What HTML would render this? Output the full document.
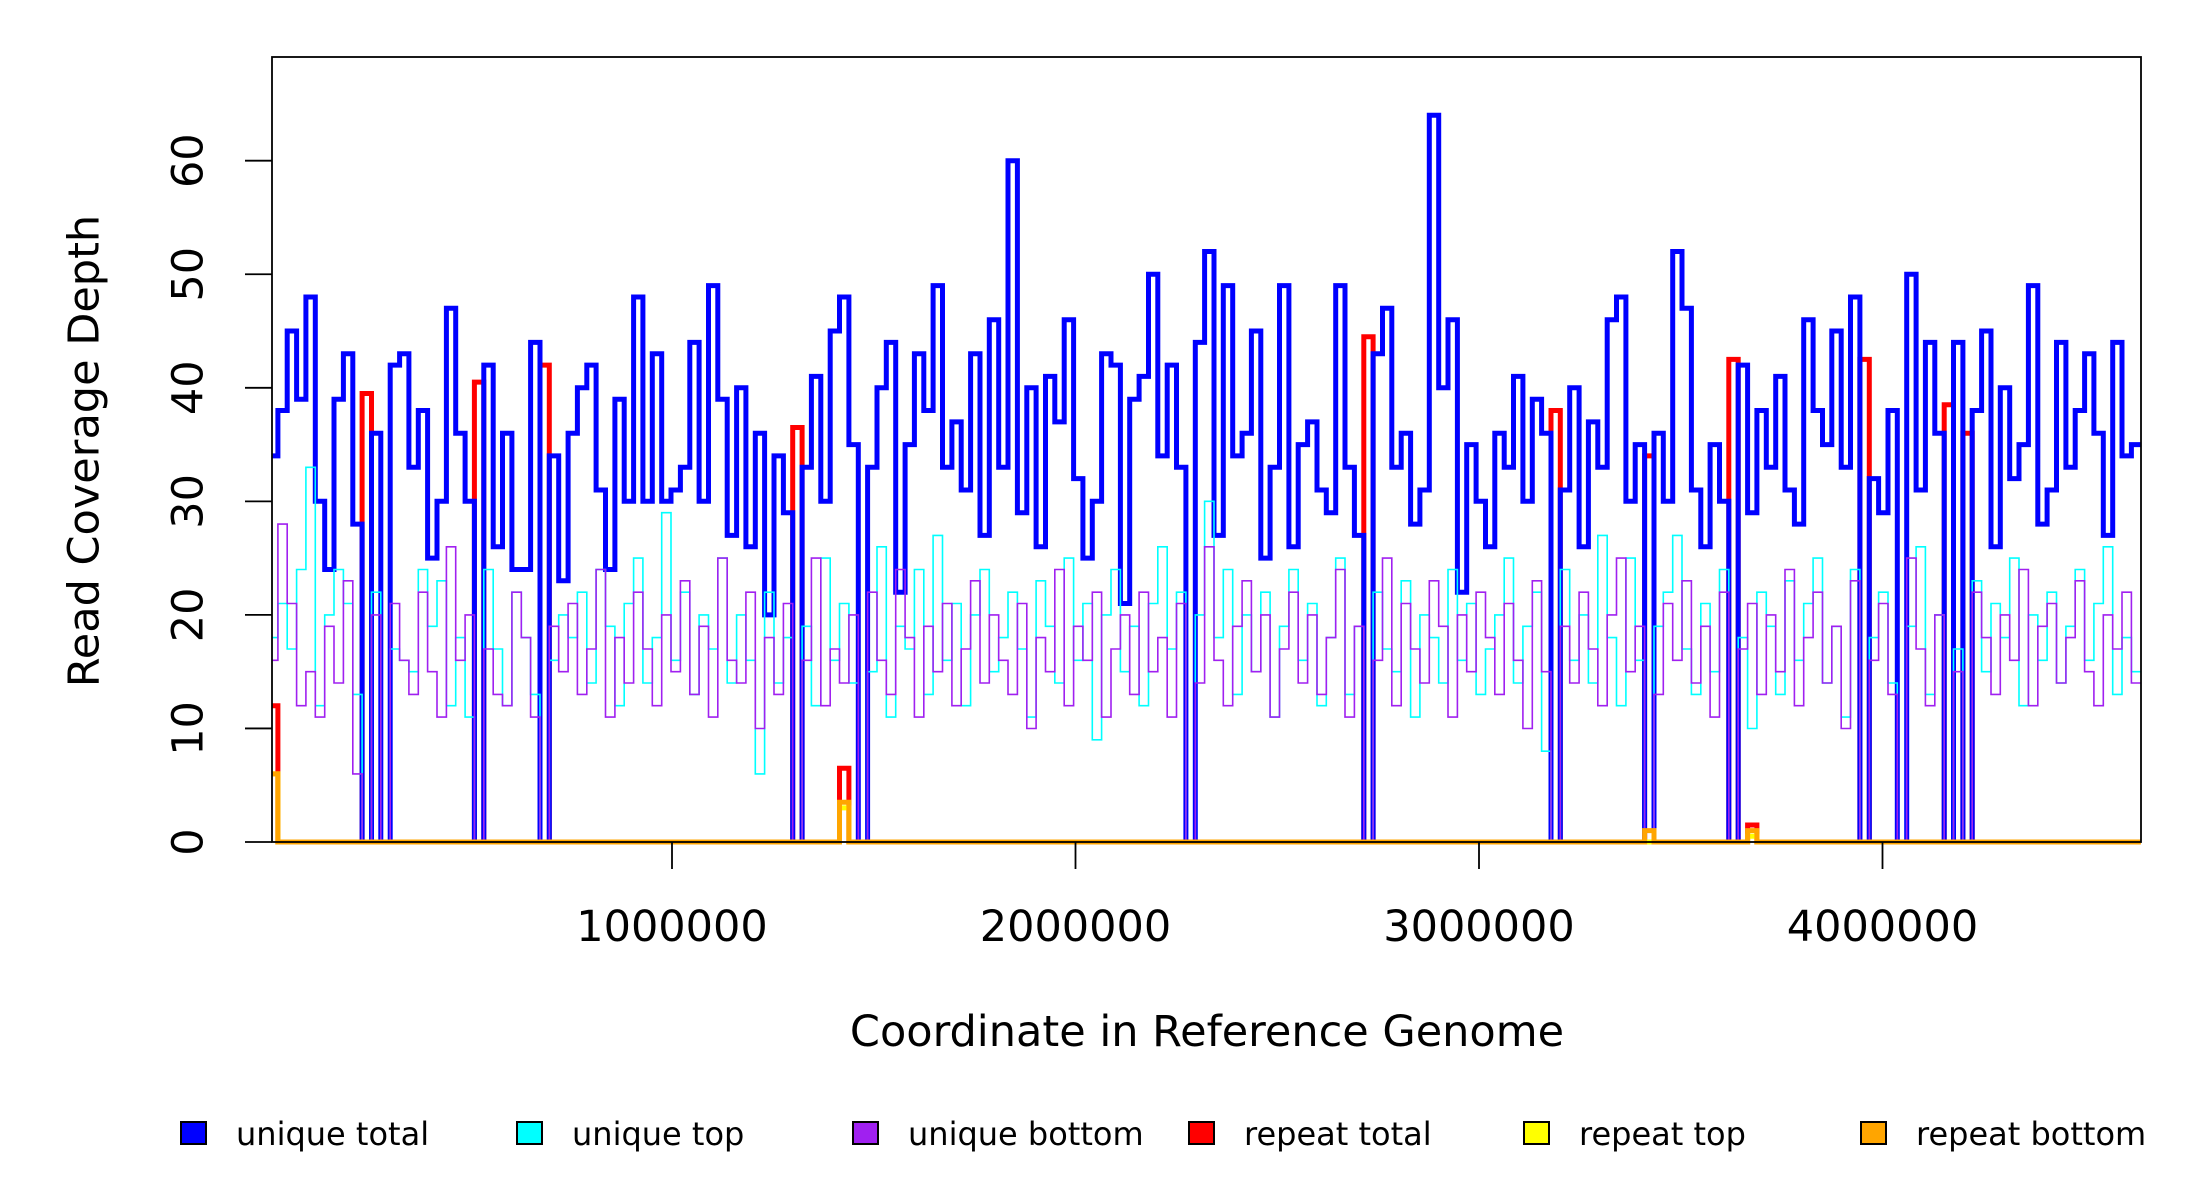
<!DOCTYPE html>
<html><head><meta charset="utf-8">
<style>
html,body{margin:0;padding:0;background:#fff;}
svg{display:block;font-family:"DejaVu Sans","Liberation Sans",sans-serif;}
</style></head>
<body>
<svg id="chart" width="2200" height="1200" viewBox="0 0 2200 1200" xmlns="http://www.w3.org/2000/svg">
<rect x="0" y="0" width="2200" height="1200" fill="#fff"/>
<g id="marks"></g>
<rect x="272" y="57" width="1869" height="785" fill="none" stroke="#000" stroke-width="1.8"/>
<g id="axes"></g>
<text x="87" y="451" font-size="43" text-anchor="middle" transform="rotate(-90 87 451)" dominant-baseline="middle">Read Coverage Depth</text>
<text x="1207" y="1046" font-size="43" text-anchor="middle">Coordinate in Reference Genome</text>
<g>
<g><rect x="181" y="1122" width="25" height="22" fill="#0000ff" stroke="#000" stroke-width="2"/><text x="236" y="1145" font-size="32">unique total</text></g>
<g><rect x="517" y="1122" width="25" height="22" fill="#00ffff" stroke="#000" stroke-width="2"/><text x="572" y="1145" font-size="32">unique top</text></g>
<g><rect x="853" y="1122" width="25" height="22" fill="#a020f0" stroke="#000" stroke-width="2"/><text x="908" y="1145" font-size="32">unique bottom</text></g>
<g><rect x="1189" y="1122" width="25" height="22" fill="#ff0000" stroke="#000" stroke-width="2"/><text x="1244" y="1145" font-size="32">repeat total</text></g>
<g><rect x="1524" y="1122" width="25" height="22" fill="#ffff00" stroke="#000" stroke-width="2"/><text x="1579" y="1145" font-size="32">repeat top</text></g>
<g><rect x="1861" y="1122" width="25" height="22" fill="#ffa500" stroke="#000" stroke-width="2"/><text x="1916" y="1145" font-size="32">repeat bottom</text></g>
</g>
</svg>
<script>
const binSize = 23200;
const uniqueTotal = [34,38,45,39,48,30,24,39,43,28,
0,36,0,42,43,33,38,25,30,47,
36,30,0,42,26,36,24,24,44,0,
34,23,36,40,42,31,24,39,30,48,
30,43,30,31,33,44,30,49,39,27,
40,26,36,20,34,29,0,33,41,30,
45,48,35,0,33,40,44,22,35,43,
38,49,33,37,31,43,27,46,33,60,
29,40,26,41,37,46,32,25,30,43,
42,21,39,41,50,34,42,33,0,44,
52,27,49,34,36,45,25,33,49,26,
35,37,31,29,49,33,27,0,43,47,
33,36,28,31,64,40,46,22,35,30,
26,36,33,41,30,39,36,0,31,40,
26,37,33,46,48,30,35,0,36,30,
52,47,31,26,35,30,0,42,29,38,
33,41,31,28,46,38,35,45,33,48,
0,32,29,38,0,50,31,44,36,0,
44,0,38,45,26,40,32,35,49,28,
31,44,33,38,43,36,27,44,34,35];
const uniqueTop = [18,21,17,24,33,12,20,24,21,13,
0,22,0,17,16,15,24,19,23,12,
18,11,0,24,17,12,22,18,13,0,
16,20,18,22,14,24,19,12,21,25,
14,18,29,16,22,13,20,17,25,14,
20,16,6,22,14,18,0,19,12,25,
16,21,14,0,15,26,11,19,17,24,
13,27,16,21,12,20,24,15,18,22,
17,11,23,19,14,25,16,21,9,20,
24,15,19,12,21,26,17,22,0,20,
30,18,24,13,20,15,22,11,19,24,
16,21,12,18,25,13,19,0,22,17,
15,23,11,20,18,14,24,16,21,13,
17,20,25,14,19,22,8,0,24,16,
20,14,27,18,12,25,16,0,19,22,
27,17,13,21,15,24,0,18,10,22,
19,13,23,16,21,25,14,19,11,24,
0,18,22,14,0,19,26,13,20,0,
17,0,23,15,21,18,25,12,20,16,
22,14,19,24,16,21,26,13,18,15];
const uniqueBottom = [16,28,21,12,15,11,19,14,23,6,
0,20,0,21,16,13,22,15,11,26,
16,20,0,17,13,12,22,18,11,0,
19,15,21,13,17,24,11,18,14,22,
17,12,20,15,23,13,19,11,25,16,
14,22,10,18,13,21,0,16,25,12,
17,14,20,0,22,16,13,24,18,11,
19,15,21,12,17,23,14,20,16,13,
21,10,18,15,24,12,19,16,22,11,
17,20,13,22,15,18,11,21,0,14,
26,16,12,19,23,15,20,11,17,22,
14,20,13,18,24,11,19,0,16,25,
12,21,17,14,23,19,11,20,15,22,
18,13,21,16,10,23,15,0,19,14,
22,17,12,20,25,15,19,0,13,21,
16,23,14,19,11,22,0,17,21,13,
20,15,24,12,18,22,14,19,10,23,
0,16,21,13,0,25,17,12,20,0,
15,0,22,18,13,20,16,24,12,19,
21,14,18,23,15,12,20,17,22,14];
const repeatBins = [0,10,22,29,56,61,117,137,147,156,158,170,179,181];
const repeatTotal = [12,39.5,40.5,42,36.5,6.5,44.5,38,34,42.5,1.5,42.5,38.5,36];
const repeatTop = [6,0,0,0,0,3,0,0,0,0,0.5,0,0,0];
const repeatBottom = [6,0,0,0,0,3.5,0,0,1,0,1,0,0,0];
const xTicks = [1000000,2000000,3000000,4000000];
const yTicks = [0,10,20,30,40,50,60];

const X0 = 268.5, PXPERBP = 403.5/1e6, Y0 = 842, PXPERUNIT = 11.355;
function xs(bp){ return X0 + bp*PXPERBP; }
function ys(v){ return Y0 - v*PXPERUNIT; }
const NS = "http://www.w3.org/2000/svg";
const marks = document.getElementById('marks');
const axes = document.getElementById('axes');
const nBins = uniqueTotal.length;

function sparseToDense(vals){
  const d = new Array(nBins).fill(0);
  repeatBins.forEach((b,i)=>{ d[b] = vals[i]; });
  return d;
}
function stepPath(arr){
  let d = '';
  for (let i=0;i<arr.length;i++){
    const xa = Math.max(272, xs(i*binSize)), xb = Math.min(2141, xs((i+1)*binSize));
    const y = ys(arr[i]).toFixed(1);
    d += (i===0 ? 'M'+xa.toFixed(1)+' '+y : 'L'+xa.toFixed(1)+' '+y) + ' L'+xb.toFixed(1)+' '+y+' ';
  }
  return d;
}
function addLine(arr, color, w, name){
  const p = document.createElementNS(NS,'path');
  p.setAttribute('d', stepPath(arr));
  p.setAttribute('fill','none');
  p.setAttribute('stroke',color);
  p.setAttribute('stroke-width',w);
  p.setAttribute('stroke-linejoin','miter');
  
  
  marks.appendChild(p);
}
addLine(sparseToDense(repeatTotal), '#ff0000', 5, 'repeat-total-line');
addLine(uniqueTotal, '#0000ff', 5, 'unique-total-line');
addLine(uniqueTop, '#00ffff', 1.6, 'unique-top-line');
addLine(uniqueBottom, '#a020f0', 1.6, 'unique-bottom-line');
addLine(sparseToDense(repeatTop), '#ffff00', 5, 'repeat-top-line');
addLine(sparseToDense(repeatBottom), '#ffa500', 5, 'repeat-bottom-line');

yTicks.forEach(v=>{
  const y = ys(v);
  const l = document.createElementNS(NS,'line');
  l.setAttribute('x1',245); l.setAttribute('x2',272);
  l.setAttribute('y1',y); l.setAttribute('y2',y);
  l.setAttribute('stroke','#000'); l.setAttribute('stroke-width',1.8);
  
  
  axes.appendChild(l);
  const t = document.createElementNS(NS,'text');
  t.setAttribute('x',191); t.setAttribute('y',y);
  t.setAttribute('font-size',43);
  t.setAttribute('text-anchor','middle');
  t.setAttribute('dominant-baseline','middle');
  t.setAttribute('transform','rotate(-90 191 '+y+')');
  t.textContent = String(v);
  
  
  axes.appendChild(t);
});
xTicks.forEach(v=>{
  const x = xs(v);
  const l = document.createElementNS(NS,'line');
  l.setAttribute('x1',x); l.setAttribute('x2',x);
  l.setAttribute('y1',842); l.setAttribute('y2',869);
  l.setAttribute('stroke','#000'); l.setAttribute('stroke-width',1.8);
  
  
  axes.appendChild(l);
  const t = document.createElementNS(NS,'text');
  t.setAttribute('x',x); t.setAttribute('y',941);
  t.setAttribute('font-size',43);
  t.setAttribute('text-anchor','middle');
  t.textContent = String(v);
  
  
  axes.appendChild(t);
});
</script>
</body></html>
